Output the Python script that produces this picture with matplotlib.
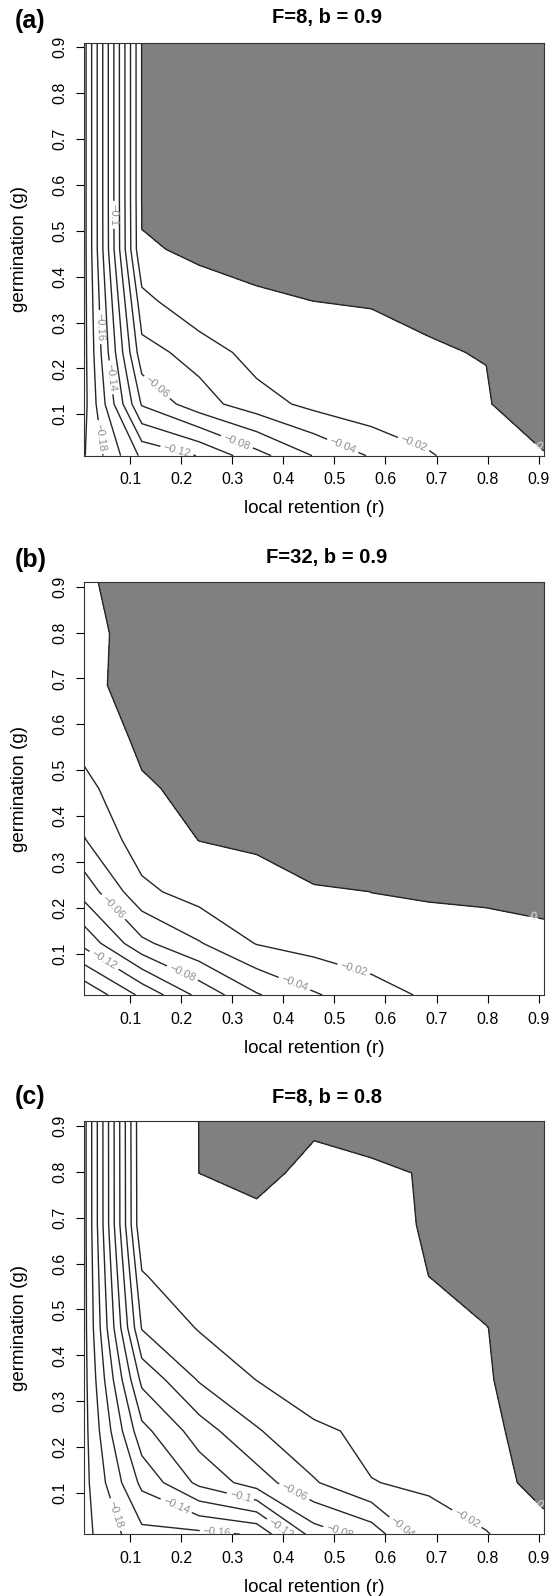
import matplotlib
matplotlib.use("Agg")
import matplotlib.pyplot as plt

plt.rcParams['font.family'] = ['Liberation Sans', 'DejaVu Sans']
plt.rcParams['contour.negative_linestyle'] = 'solid'

# grid of local retention (r) and germination (g)
r = [0.01, 0.1225, 0.235, 0.3475, 0.46, 0.5725, 0.685, 0.7975, 0.91]
g = [0.01, 0.1225, 0.235, 0.3475, 0.46, 0.5725, 0.685, 0.7975, 0.91]

levels = [-0.2, -0.18, -0.16, -0.14, -0.12, -0.1, -0.08, -0.06, -0.04, -0.02]
ticks = [0.1, 0.2, 0.3, 0.4, 0.5, 0.6, 0.7, 0.8, 0.9]

titles = ["F=8, b = 0.9", "F=32, b = 0.9", "F=8, b = 0.8"]
letters = ["(a)", "(b)", "(c)"]

# invasion growth rate, rows = g, columns = r
z_a = [
    [-0.201, -0.136, -0.119, -0.087, -0.059, -0.038, -0.022, -0.007, -0.001],
    [-0.206, -0.078, -0.048, -0.029, -0.0142, -0.006, -0.003, -0.0011, 0.010],
    [-0.206, -0.047, -0.0327, -0.0108, -0.006, -0.003, -0.00066, 0.00037, 0.010],
    [-0.206, -0.027, -0.00156, -0.00123, 0.00005, 0.00055, 0.00147, 0.005, 0.015],
    [-0.206, -0.0005, 0.0007, 0.003, 0.006, 0.008, 0.010, 0.012, 0.020],
    [-0.206, 0.0008, 0.004, 0.008, 0.010, 0.012, 0.015, 0.018, 0.025],
    [-0.206, 0.0008, 0.005, 0.009, 0.012, 0.015, 0.018, 0.021, 0.028],
    [-0.206, 0.0008, 0.006, 0.010, 0.014, 0.017, 0.020, 0.024, 0.030],
    [-0.206, 0.0008, 0.007, 0.011, 0.015, 0.019, 0.022, 0.026, 0.032],
]

z_b = [
    [-0.177, -0.1355, -0.0945, -0.0618, -0.042, -0.028, -0.017, -0.010, -0.005],
    [-0.114, -0.065, -0.0415, -0.019, -0.012, -0.008, -0.005, -0.003, -0.002],
    [-0.072, -0.025, -0.011, -0.007, -0.005, 0.00016, 0.00125, 0.00135, 0.00226],
    [-0.041, -0.009, 0.00022, 0.0027, 0.0307, 0.033, 0.035, 0.036, 0.037],
    [-0.026, -0.002, 0.004, 0.010, 0.035, 0.037, 0.039, 0.040, 0.041],
    [-0.012, 0.0036, 0.010, 0.020, 0.038, 0.040, 0.042, 0.043, 0.044],
    [-0.004, 0.006, 0.015, 0.025, 0.040, 0.042, 0.044, 0.045, 0.046],
    [-0.0035, 0.0045, 0.018, 0.028, 0.041, 0.043, 0.045, 0.046, 0.047],
    [-0.0012, 0.0038, 0.020, 0.030, 0.042, 0.044, 0.046, 0.047, 0.048],
]

z_c = [
    [-0.206, -0.1658, -0.165, -0.158, -0.09, -0.072, -0.0246, -0.021, -0.0065],
    [-0.206, -0.1351, -0.095, -0.07, -0.042, -0.0203, -0.0184, -0.008, 0.0068],
    [-0.206, -0.1063, -0.07, -0.042, -0.0223, -0.0173, -0.012, -0.004, 0.0081],
    [-0.206, -0.0747, -0.038, -0.0195, -0.012, -0.008, -0.004, -0.0005, 0.0033],
    [-0.206, -0.0387, -0.0184, -0.010, -0.006, -0.004, -0.002, -0.0002, 0.005],
    [-0.206, -0.0222, -0.001, -0.0008, -0.0008, -0.002, 0.00001, 0.0038, 0.006],
    [-0.206, -0.002, -0.0015, -0.001, -0.001, -0.0005, 0.00014, 0.003, 0.006],
    [-0.206, -0.0015, 0.00001, 0.001, -0.001, -0.0007, 0.0003, 0.003, 0.006],
    [-0.206, -0.001, 0.00001, 0.002, 0.0006, 0.0017, 0.003, 0.004, 0.006],
]

# where the contour labels sit (data coords)
labels_a = [(0.064, 0.535), (0.037, 0.29), (0.057, 0.18), (0.039, 0.05),
            (0.153, 0.16), (0.193, 0.028), (0.307, 0.035), (0.515, 0.028),
            (0.655, 0.035)]
labels_b = [(0.065, 0.2), (0.047, 0.083), (0.2, 0.053), (0.42, 0.03),
            (0.535, 0.056)]
labels_c = [(0.063, 0.05), (0.27, 0.022), (0.19, 0.072), (0.40, 0.03),
            (0.315, 0.09), (0.515, 0.032), (0.42, 0.1), (0.645, 0.04),
            (0.76, 0.045)]
zero_pos = [(0.895, 0.025), (0.89, 0.18), (0.895, 0.07)]


def fmt(v):
    return ('%g' % v).replace('-', '\u2212')


fig = plt.figure(figsize=(5.58, 15.96), dpi=100)

panel_bottoms = [0.7145, 0.3766, 0.0387]
title_y = [0.989, 0.651, 0.3124]
letter_y = [0.9868, 0.649, 0.3126]
zs = [z_a, z_b, z_c]
label_sets = [labels_a, labels_b, labels_c]

for i in range(3):
    ax = fig.add_axes([0.1513, panel_bottoms[i], 0.823, 0.2587])
    z = zs[i]
    ax.contourf(r, g, z, levels=[0, 1], colors=['#808080'])
    cs = ax.contour(r, g, z, levels=levels, colors='#262626',
                    linewidths=1.0, linestyles='solid')
    cs0 = ax.contour(r, g, z, levels=[0], colors='#262626',
                     linewidths=1.0, linestyles='solid')
    ax.clabel(cs, manual=label_sets[i], inline=True, inline_spacing=3,
              fontsize=8, colors='#8f8f8f', fmt=fmt)
    ax.clabel(cs0, manual=[zero_pos[i]], inline=True, inline_spacing=2,
              fontsize=8, colors='#e6e6e6', fmt=fmt)

    ax.set_xlim(0.01, 0.91)
    ax.set_ylim(0.01, 0.91)
    ax.set_xticks(ticks)
    ax.set_yticks(ticks)
    ax.set_xticklabels([str(t) for t in ticks], fontsize=11.5)
    ax.set_yticklabels([str(t) for t in ticks], fontsize=11.5,
                       rotation=90, va='center')
    ax.tick_params(direction='out', length=6, width=0.8, pad=6)
    for s in ax.spines.values():
        s.set_linewidth(0.8)
        s.set_color('#333333')

    ax.set_xlabel("local retention (r)", fontsize=13.5)
    ax.set_ylabel("germination (g)", fontsize=13.5)
    ax.xaxis.set_label_coords(0.5, -0.108)
    ax.yaxis.set_label_coords(-0.122, 0.5)

    fig.text(0.586, title_y[i], titles[i], ha='center', va='center',
             fontsize=14.5, fontweight='bold')
    fig.text(0.027, letter_y[i], letters[i], ha='left', va='center',
             fontsize=18, fontweight='bold')

fig.savefig("out.png", dpi=100)
